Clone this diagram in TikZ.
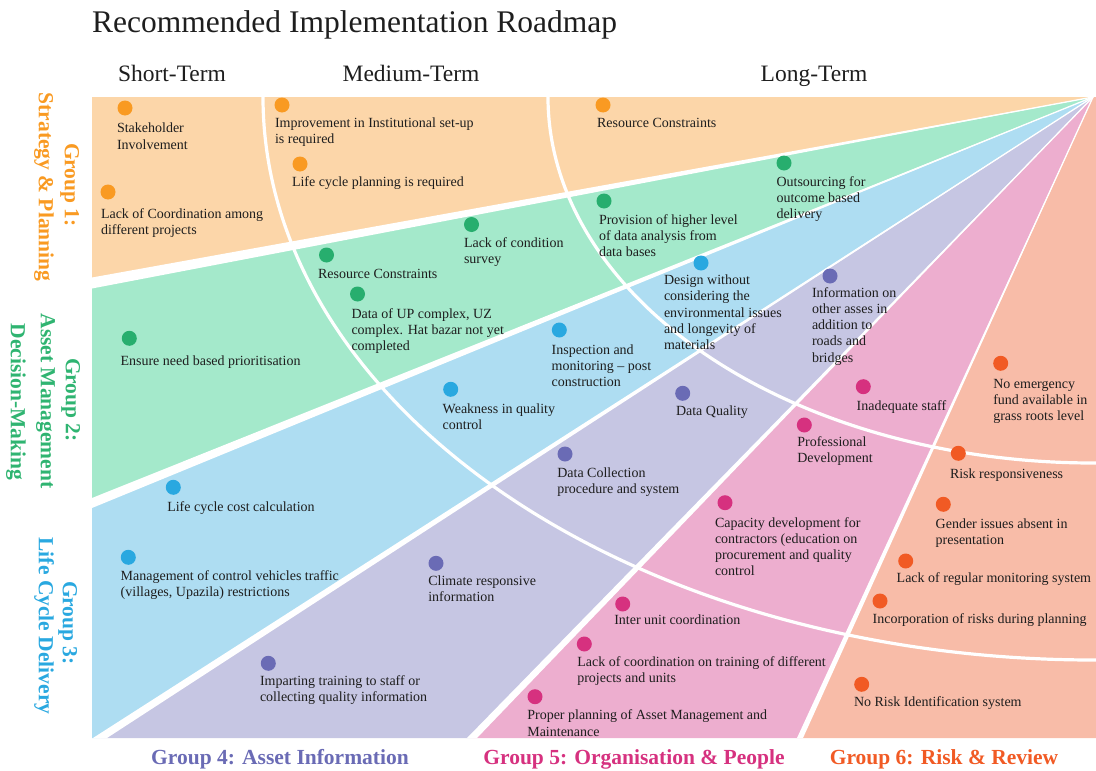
\documentclass[tikz,border=0pt]{standalone}
\usepackage{fontspec}
\setmainfont{Liberation Serif}

% wedge fills
\definecolor{fillOr}{HTML}{FCD6A9}
\definecolor{fillGr}{HTML}{A4E9CB}
\definecolor{fillBl}{HTML}{AEDDF2}
\definecolor{fillPu}{HTML}{C6C6E3}
\definecolor{fillPk}{HTML}{EDAECF}
\definecolor{fillSa}{HTML}{F8BCA8}
% markers and group titles
\definecolor{dotOr}{HTML}{F99A22}
\definecolor{dotGr}{HTML}{27AE6E}
\definecolor{dotBl}{HTML}{29A8E0}
\definecolor{dotPu}{HTML}{6A6BB5}
\definecolor{dotPk}{HTML}{D6317F}
\definecolor{dotRd}{HTML}{F15A24}
\definecolor{gGr}{HTML}{2FB471}
\definecolor{ink}{HTML}{1E1E1E}

% one issue: marker dot plus its text block
% #1 name, #2/#3 dot centre, #4 colour, #5 text left, #6 first baseline, #7 text
\newcommand\issueat[7]{%
  \node[dot=#4] (#1) at (#2,#3) {};
  \node[issue] (#1txt) at (#5,#6-9.3) {#7};}

\begin{document}
\begin{tikzpicture}[x=1pt,y=-1pt,
  dot/.style={circle, fill=#1, draw=none, minimum size=15pt, inner sep=0pt},
  issue/.style={anchor=north west, inner sep=0pt, outer sep=0pt, align=left,
    text=ink, font=\fontsize{14}{16.2}\selectfont},
  grouplab/.style={text=#1, font=\fontsize{21.5}{25}\selectfont\bfseries,
    inner sep=0pt, anchor=base},
  termlab/.style={font=\fontsize{23.5}{28}\selectfont, inner sep=0pt, anchor=base, text=ink},
  sep/.style={fill=white, draw=none},
  ring/.style={draw=white, line width=3.2pt}
]
\useasboundingbox (0,0) rectangle (1096,771);
\coordinate (apex) at (1093,97);
\coordinate (e1) at (92,283);
\coordinate (e2) at (92,503);
\coordinate (e3) at (100,738);
\coordinate (e4) at (472,738);
\coordinate (e5) at (800,738);

% the six wedges
\fill[fillOr] (92,97) -- (apex) -- (e1) -- cycle;
\fill[fillGr] (apex) -- (e1) -- (e2) -- cycle;
\fill[fillBl] (apex) -- (e2) -- (92,738) -- (e3) -- cycle;
\fill[fillPu] (apex) -- (e3) -- (e4) -- cycle;
\fill[fillPk] (apex) -- (e4) -- (e5) -- cycle;
\fill[fillSa] (apex) -- (e5) -- (1096,738) -- (1096,97) -- cycle;

% white separators, widening away from the apex
\fill[sep] (apex) -- (92,277.5) -- (92,288.5) -- cycle;
\fill[sep] (apex) -- (92,498) -- (92,508) -- cycle;
\fill[sep] (apex) -- (93,738) -- (107,738) -- cycle;
\fill[sep] (apex) -- (467,738) -- (477,738) -- cycle;
\fill[sep] (apex) -- (797,738) -- (803,738) -- cycle;
\foreach \e in {e1,e2,e3,e4,e5} \draw[white, line width=1.3pt] (apex) -- (\e);

% term boundaries: quarter ellipses around the apex
\begin{scope}
  \clip (92,97) rectangle (1096,738);
  \draw[ring] (apex) ++(-830pt,0pt) arc[start angle=180, end angle=275, x radius=830pt, y radius=563pt];
  \draw[ring] (apex) ++(-545pt,0pt) arc[start angle=180, end angle=275, x radius=545pt, y radius=366pt];
\end{scope}

% title and term headings
\node[anchor=base west, inner sep=0pt, text=ink, font=\fontsize{31.5}{36}\selectfont] (title) at (92,32.5) {Recommended Implementation Roadmap};
\node[termlab] (short) at (172,81) {Short-Term};
\node[termlab] (medium) at (411,81) {Medium-Term};
\node[termlab] (long) at (814,81) {Long-Term};

% group titles
\node[grouplab=dotOr, rotate=-90] (g1a) at (64.8,185) {Group 1:};
\node[grouplab=dotOr, rotate=-90] (g1b) at (38.8,187) {Strategy \& Planning};
\node[grouplab=gGr, rotate=-90] (g2a) at (65.8,400) {Group 2:};
\node[grouplab=gGr, rotate=-90] (g2b) at (40.8,401) {Asset Management};
\node[grouplab=gGr, rotate=-90] (g2c) at (10.8,402) {Decision-Making};
\node[grouplab=dotBl, rotate=-90] (g3a) at (62.8,623) {Group 3:};
\node[grouplab=dotBl, rotate=-90] (g3b) at (38.8,626) {Life Cycle Delivery};
\node[grouplab=dotPu] (g4) at (280,764) {Group 4: Asset Information};
\node[grouplab=dotPk] (g5) at (634,764) {Group 5: Organisation \& People};
\node[grouplab=dotRd] (g6) at (944,764) {Group 6: Risk \& Review};

% Group 1: Strategy & Planning
\issueat{s1}{125}{108}{dotOr}{117}{132.5}{Stakeholder\\Involvement}
\issueat{s2}{108}{192}{dotOr}{101}{217.5}{Lack of Coordination among\\different projects}
\issueat{s3}{282}{105}{dotOr}{275}{127}{Improvement in Institutional set-up\\is required}
\issueat{s4}{300}{164}{dotOr}{292}{186}{Life cycle planning is required}
\issueat{s5}{603}{105}{dotOr}{597}{127.5}{Resource Constraints}
% Group 2: Asset Management Decision-Making
\issueat{a1}{784}{163}{dotGr}{776.5}{186}{Outsourcing for\\outcome based\\delivery}
\issueat{a2}{604}{201}{dotGr}{599}{224}{Provision of higher level\\of data analysis from\\data bases}
\issueat{a3}{471.5}{224.5}{dotGr}{464}{247}{Lack of condition\\survey}
\issueat{a4}{326.5}{255}{dotGr}{318}{278.3}{Resource Constraints}
\issueat{a5}{357.5}{294}{dotGr}{351.5}{317.7}{Data of UP complex, UZ\\complex. Hat bazar not yet\\completed}
\issueat{a6}{129.3}{338.3}{dotGr}{120.5}{365}{Ensure need based prioritisation}
% Group 3: Life Cycle Delivery
\issueat{l1}{701}{263}{dotBl}{664}{284.3}{Design without\\considering the\\environmental issues\\and longevity of\\materials}
\issueat{l2}{559.3}{330}{dotBl}{551.7}{354}{Inspection and\\monitoring – post\\construction}
\issueat{l3}{450.7}{389.3}{dotBl}{442.7}{412.7}{Weakness in quality\\control}
\issueat{l4}{173.3}{487.3}{dotBl}{167.3}{510.7}{Life cycle cost calculation}
\issueat{l5}{128.3}{557.3}{dotBl}{120.7}{580}{Management of control vehicles traffic\\(villages, Upazila) restrictions}
% Group 4: Asset Information
\issueat{i1}{830}{276}{dotPu}{812}{296.7}{Information on\\other asses in\\addition to\\roads and\\bridges}
\issueat{i2}{682.7}{393.3}{dotPu}{676}{415}{Data Quality}
\issueat{i3}{565}{454}{dotPu}{557.3}{476.7}{Data Collection\\procedure and system}
\issueat{i4}{436}{563.3}{dotPu}{428.3}{585}{Climate responsive\\information}
\issueat{i5}{268.3}{663.3}{dotPu}{260}{685}{Imparting training to staff or\\collecting quality information}
% Group 5: Organisation & People
\issueat{o1}{863.3}{386.7}{dotPk}{856.7}{410}{Inadequate staff}
\issueat{o2}{804.3}{425}{dotPk}{797.3}{446}{Professional\\Development}
\issueat{o3}{725}{502.7}{dotPk}{715}{526.7}{Capacity development for\\contractors (education on\\procurement and quality\\control}
\issueat{o4}{622.7}{604}{dotPk}{614.3}{624}{Inter unit coordination}
\issueat{o5}{584.3}{644}{dotPk}{577.3}{666}{Lack of coordination on training of different\\projects and units}
\issueat{o6}{535}{696.7}{dotPk}{527.3}{719.3}{Proper planning of Asset Management and\\Maintenance}
% Group 6: Risk & Review
\issueat{r1}{1000.7}{363.3}{dotRd}{993.3}{388.3}{No emergency\\fund available in\\grass roots level}
\issueat{r2}{958.3}{453.3}{dotRd}{950}{478.3}{Risk responsiveness}
\issueat{r3}{943.3}{504.3}{dotRd}{935.7}{528.3}{Gender issues absent in\\presentation}
\issueat{r4}{905.7}{561}{dotRd}{896.7}{582.3}{Lack of regular monitoring system}
\issueat{r5}{880}{601}{dotRd}{872.7}{622.7}{Incorporation of risks during planning}
\issueat{r6}{861.7}{684.3}{dotRd}{854}{706}{No Risk Identification system}
\end{tikzpicture}
\end{document}
